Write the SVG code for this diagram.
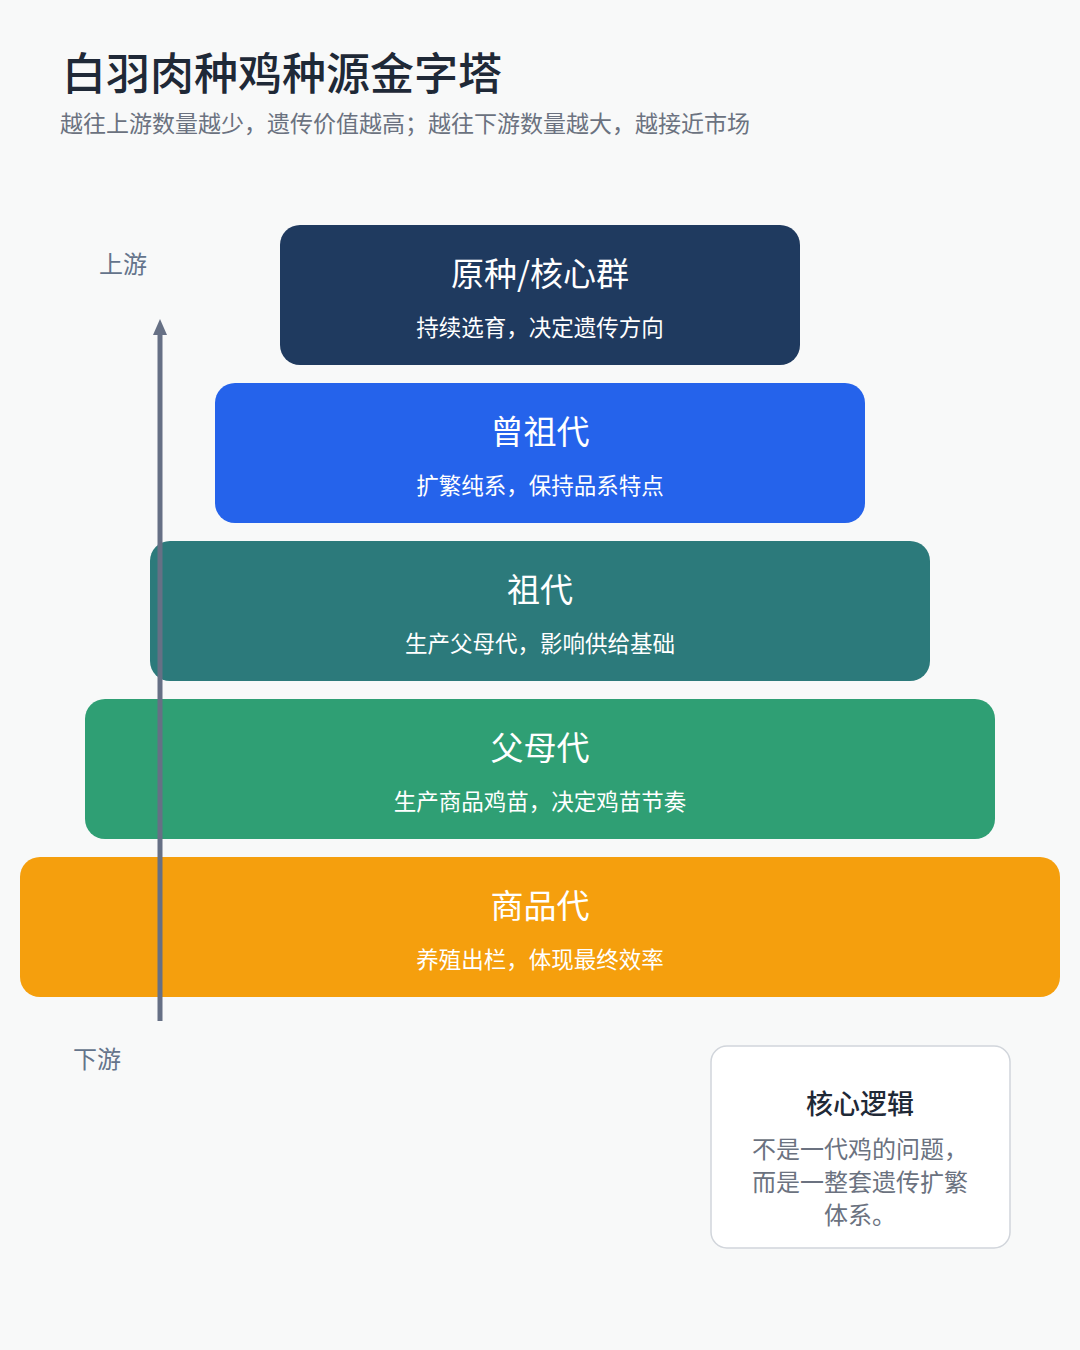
<svg xmlns="http://www.w3.org/2000/svg" width="1080" height="1350" viewBox="0 0 1080 1350">
<defs>
<style>
text{font-family:"Noto Sans CJK SC","Noto Sans",sans-serif;}
.lt{fill:#ffffff;font-size:33px;text-anchor:middle;font-weight:400;}
.ls{fill:#ffffff;font-size:22.5px;text-anchor:middle;}
.side{fill:#64748b;font-size:24px;}
</style>
</defs>
<rect width="1080" height="1350" fill="#f8f9f9"/>
<text x="62" y="90" font-size="44" font-weight="500" fill="#1f2937">白羽肉种鸡种源金字塔</text>
<text x="60" y="132" font-size="23" fill="#6b7280">越往上游数量越少，遗传价值越高；越往下游数量越大，越接近市场</text>

<g id="layer1"><rect x="280" y="225" width="520" height="140" rx="20" fill="#1f3a5f"/><text class="lt" x="540" y="286">原种/核心群</text><text class="ls" x="540" y="336">持续选育，决定遗传方向</text></g>
<g id="layer2"><rect x="215" y="383" width="650" height="140" rx="20" fill="#2563eb"/><text class="lt" x="540" y="444">曾祖代</text><text class="ls" x="540" y="494">扩繁纯系，保持品系特点</text></g>
<g id="layer3"><rect x="150" y="541" width="780" height="140" rx="20" fill="#2c7a7b"/><text class="lt" x="540" y="602">祖代</text><text class="ls" x="540" y="652">生产父母代，影响供给基础</text></g>
<g id="layer4"><rect x="85" y="699" width="910" height="140" rx="20" fill="#2f9f74"/><text class="lt" x="540" y="760">父母代</text><text class="ls" x="540" y="810">生产商品鸡苗，决定鸡苗节奏</text></g>
<g id="layer5"><rect x="20" y="857" width="1040" height="140" rx="20" fill="#f59f0d"/><text class="lt" x="540" y="918">商品代</text><text class="ls" x="540" y="968">养殖出栏，体现最终效率</text></g>

<g id="connectors">
<line x1="160" y1="1021" x2="160" y2="334" stroke="#667085" stroke-width="5"/>
<path d="M160,319 L167,335 L153,335 Z" fill="#667085"/>
</g>
<g id="label-up"><text class="side" x="99" y="273">上游</text></g>
<g id="label-down"><text class="side" x="73" y="1068">下游</text></g>

<g id="note">
<rect x="711" y="1046" width="299" height="202" rx="16" fill="#ffffff" stroke="#d1d5db" stroke-width="1.5"/>
<text x="860" y="1114" font-size="27" font-weight="500" fill="#1f2937" text-anchor="middle">核心逻辑</text>
<text x="860" y="1158" font-size="24" fill="#6b7280" text-anchor="middle">不是一代鸡的问题，</text>
<text x="860" y="1191" font-size="24" fill="#6b7280" text-anchor="middle">而是一整套遗传扩繁</text>
<text x="860" y="1224" font-size="24" fill="#6b7280" text-anchor="middle">体系。</text>
</g>
</svg>
